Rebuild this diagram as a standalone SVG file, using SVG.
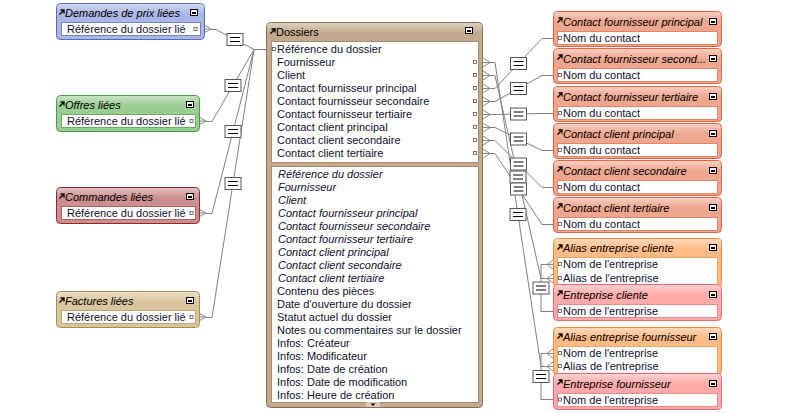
<svg xmlns="http://www.w3.org/2000/svg" width="795" height="413" viewBox="0 0 795 413">
<style>
.t{font-family:"Liberation Sans",Arial,sans-serif;font-size:11px;fill:#101030}
.h{fill:#000}
.i{font-style:italic}
.ln{fill:none;stroke:#808080;stroke-width:1}
.cf{fill:none;stroke:#8a8a8a;stroke-width:1}
.fb{fill:#fff}
.pin{fill:#fff;stroke:#555;stroke-width:0.8}
.blue{fill:#a9b7e6;stroke:#5a6ab2}
.blue2{stroke:#7483c4}
.green{fill:#9bcc93;stroke:#4f9a49}
.green2{stroke:#6aae64}
.red{fill:#cc8f8f;stroke:#8e2a2a}
.red2{stroke:#b06060}
.tan{fill:#d9c59e;stroke:#a88c52}
.tan2{stroke:#bea672}
.dos{fill:#c2aa8e;stroke:#8c7052}
.dos2{stroke:#a58a6b}
.sal{fill:#efa68e;stroke:#e06440}
.sal2{stroke:#e88466}
.ora{fill:#ffbb86;stroke:#f28a3a}
.ora2{stroke:#f6a060}
.pnk{fill:#ffaaaa;stroke:#ef6a6a}
.pnk2{stroke:#f38888}
</style>
<defs>
<linearGradient id="gloss" x1="0" y1="0" x2="0" y2="1">
<stop offset="0" stop-color="#fff" stop-opacity="0.45"/>
<stop offset="1" stop-color="#fff" stop-opacity="0"/>
</linearGradient>
<g id="eqb"><rect x="-8" y="-6" width="16" height="12" fill="#fff" stroke="#555"/><path d="M-5,-2H5M-5,2H5" stroke="#000" stroke-width="1.2"/></g>
<g id="arr"><path d="M0.5,5.5L4.5,1.5M1.5,1H5V4.5" stroke="#000" stroke-width="1.3" fill="none"/></g>
<g id="mini"><rect width="8" height="7" fill="#000"/><rect x="1" y="1" width="6" height="5" fill="#fff"/><rect x="2" y="3" width="4" height="2" fill="#000"/></g>
</defs>

<g id="connectors">
<!-- left -->
<path class="cf" d="M204,25L211,29M204,29L211,29M204,33L211,29"/>
<path class="ln" d="M211,29.5L216,29.5L254,49.5L266,49.5"/>
<path class="cf" d="M199,117L206,121M199,121L206,121M199,125L206,121"/>
<path class="ln" d="M206,121.5L212,121.5L254,49.5"/>
<path class="cf" d="M199,209L206,213M199,213L206,213M199,217L206,213"/>
<path class="ln" d="M206,213.5L212,213.5L254,49.5"/>
<path class="cf" d="M199,313L206,317M199,317L206,317M199,321L206,317"/>
<path class="ln" d="M206,317.5L212,317.5L254,49.5"/>
<use href="#eqb" x="235" y="39.5"/>
<use href="#eqb" x="233" y="85.5"/>
<use href="#eqb" x="233" y="131.5"/>
<use href="#eqb" x="233" y="183.5"/>
<!-- right crow feet on Dossiers -->
<path class="cf" d="M483,58L490,62.5M483,62.5L490,62.5M483,67L490,62.5M483,71L490,75.5M483,75.5L490,75.5M483,80L490,75.5M483,84L490,88.5M483,88.5L490,88.5M483,93L490,88.5M483,97L490,101.5M483,101.5L490,101.5M483,106L490,101.5M483,110L490,114.5M483,114.5L490,114.5M483,119L490,114.5M483,123L490,127.5M483,127.5L490,127.5M483,132L490,127.5M483,136L490,140.5M483,140.5L490,140.5M483,145L490,140.5M483,149L490,153.5M483,153.5L490,153.5M483,158L490,153.5"/>
<path class="ln" d="M490,88.5L495,88.5L542,38.5L553,38.5"/>
<path class="ln" d="M490,101.5L495,101.5L542,75.5L553,75.5"/>
<path class="ln" d="M490,114.5L495,114.5L542,113.5L553,113.5"/>
<path class="ln" d="M490,127.5L495,127.5L542,150.5L553,150.5"/>
<path class="ln" d="M490,140.5L495,140.5L542,187.5L553,187.5"/>
<path class="ln" d="M490,153.5L495,153.5L542,224.5L553,224.5"/>
<path class="ln" d="M490,62.5L495,62.5L541,366.5L547,366.5"/>
<path class="ln" d="M490,75.5L495,75.5L541,278.5L547,278.5"/>
<path class="ln" d="M547,264.5L541,264.5L541,311.5L553,311.5"/>
<path class="ln" d="M547,353.5L541,353.5L541,399.5L553,399.5"/>
<path class="cf" d="M553,260L547,264.5M553,264.5L547,264.5M553,269L547,264.5M553,274L547,278.5M553,278.5L547,278.5M553,283L547,278.5M553,349L547,353.5M553,353.5L547,353.5M553,358L547,353.5M553,362L547,366.5M553,366.5L547,366.5M553,371L547,366.5"/>
<use href="#eqb" x="518.5" y="63.5"/>
<use href="#eqb" x="518.5" y="88.5"/>
<use href="#eqb" x="518.5" y="114"/>
<use href="#eqb" x="518.5" y="139"/>
<use href="#eqb" x="518.5" y="164"/>
<use href="#eqb" x="518" y="177"/>
<use href="#eqb" x="518.5" y="189"/>
<use href="#eqb" x="518" y="214.5"/>
<use href="#eqb" x="541" y="288"/>
<use href="#eqb" x="541" y="376.5"/>
</g>

<!-- left tables -->
<g id="demandes">
<rect class="blue" x="56.5" y="3.5" width="148" height="36" rx="4"/>
<rect x="57" y="4" width="147" height="10" rx="3" fill="url(#gloss)"/>
<rect class="fb blue2" x="61.5" y="22.5" width="139" height="13"/>
<use href="#arr" x="59" y="9"/>
<text class="t h i" x="65" y="17">Demandes de prix liées</text>
<use href="#mini" x="190" y="9"/>
<text class="t" x="67" y="33">Référence du dossier lié</text>
<rect class="pin" x="194" y="27.5" width="3" height="3"/>
</g>
<g id="offres">
<rect class="green" x="56.5" y="95.5" width="143" height="36" rx="4"/>
<rect x="57" y="96" width="142" height="10" rx="3" fill="url(#gloss)"/>
<rect class="fb green2" x="61.5" y="114.5" width="134" height="13"/>
<use href="#arr" x="59" y="101"/>
<text class="t h i" x="65" y="109">Offres liées</text>
<use href="#mini" x="186" y="101"/>
<text class="t" x="67" y="125">Référence du dossier lié</text>
<rect class="pin" x="190" y="119.5" width="3" height="3"/>
</g>
<g id="commandes">
<rect class="red" x="56.5" y="187.5" width="143" height="36" rx="4"/>
<rect x="57" y="188" width="142" height="10" rx="3" fill="url(#gloss)"/>
<rect class="fb red2" x="61.5" y="206.5" width="134" height="13"/>
<use href="#arr" x="59" y="193"/>
<text class="t h i" x="65" y="201">Commandes liées</text>
<use href="#mini" x="186" y="193"/>
<text class="t" x="67" y="217">Référence du dossier lié</text>
<rect class="pin" x="190" y="211.5" width="3" height="3"/>
</g>
<g id="factures">
<rect class="tan" x="56.5" y="291.5" width="143" height="36" rx="4"/>
<rect x="57" y="292" width="142" height="10" rx="3" fill="url(#gloss)"/>
<rect class="fb tan2" x="61.5" y="310.5" width="134" height="13"/>
<use href="#arr" x="59" y="297"/>
<text class="t h i" x="65" y="305">Factures liées</text>
<use href="#mini" x="186" y="297"/>
<text class="t" x="67" y="321">Référence du dossier lié</text>
<rect class="pin" x="190" y="315.5" width="3" height="3"/>
</g>

<!-- Dossiers -->
<g id="dossiers">
<rect class="dos" x="266.5" y="22.5" width="216" height="385" rx="4"/>
<rect x="267" y="23" width="215" height="10" rx="3" fill="url(#gloss)"/>
<use href="#arr" x="270" y="28"/>
<text class="t h" x="276" y="36">Dossiers</text>
<use href="#mini" x="465" y="27"/>
<rect class="fb dos2" x="271.5" y="41.5" width="207" height="121"/>
<rect class="fb dos2" x="271.5" y="166.5" width="207" height="236"/>
<rect x="366" y="402" width="14" height="5" fill="#d9cbb8"/>
<path d="M370.5,403.5h5l-2.5,2.5z" fill="#000"/>
<rect class="pin" x="272.5" y="47.5" width="3" height="3"/>
<g class="t">
<text x="277" y="53">Référence du dossier</text>
<text x="277" y="66">Fournisseur</text>
<text x="277" y="79">Client</text>
<text x="277" y="92">Contact fournisseur principal</text>
<text x="277" y="105">Contact fournisseur secondaire</text>
<text x="277" y="118">Contact fournisseur tertiaire</text>
<text x="277" y="131">Contact client principal</text>
<text x="277" y="144">Contact client secondaire</text>
<text x="277" y="157">Contact client tertiaire</text>
</g>
<g>
<rect class="pin" x="473.5" y="60.5" width="3" height="3"/>
<rect class="pin" x="473.5" y="73.5" width="3" height="3"/>
<rect class="pin" x="473.5" y="86.5" width="3" height="3"/>
<rect class="pin" x="473.5" y="99.5" width="3" height="3"/>
<rect class="pin" x="473.5" y="112.5" width="3" height="3"/>
<rect class="pin" x="473.5" y="125.5" width="3" height="3"/>
<rect class="pin" x="473.5" y="138.5" width="3" height="3"/>
<rect class="pin" x="473.5" y="151.5" width="3" height="3"/>
</g>
<g class="t i">
<text x="278" y="178">Référence du dossier</text>
<text x="278" y="191">Fournisseur</text>
<text x="278" y="204">Client</text>
<text x="278" y="217">Contact fournisseur principal</text>
<text x="278" y="230">Contact fournisseur secondaire</text>
<text x="278" y="243">Contact fournisseur tertiaire</text>
<text x="278" y="256">Contact client principal</text>
<text x="278" y="269">Contact client secondaire</text>
<text x="278" y="282">Contact client tertiaire</text>
</g>
<g class="t">
<text x="277" y="295">Contenu des pièces</text>
<text x="277" y="308">Date d'ouverture du dossier</text>
<text x="277" y="321">Statut actuel du dossier</text>
<text x="277" y="334">Notes ou commentaires sur le dossier</text>
<text x="277" y="347">Infos: Créateur</text>
<text x="277" y="360">Infos: Modificateur</text>
<text x="277" y="373">Infos: Date de création</text>
<text x="277" y="386">Infos: Date de modification</text>
<text x="277" y="399">Infos: Heure de création</text>
</g>
</g>

<!-- right contact tables -->
<g id="cfp">
<rect class="sal" x="553.5" y="11.5" width="168" height="35" rx="4"/>
<rect x="554" y="12" width="167" height="10" rx="3" fill="url(#gloss)"/>
<use href="#arr" x="557" y="17"/>
<text class="t h i" x="563" y="25.5">Contact fournisseur principal</text>
<use href="#mini" x="709" y="18"/>
<rect class="fb sal2" x="557.5" y="31.5" width="160" height="13"/>
<rect class="pin" x="558.5" y="36.5" width="3" height="3"/>
<text class="t" x="563" y="42">Nom du contact</text>
</g>
<g id="cfs">
<rect class="sal" x="553.5" y="48.5" width="168" height="35" rx="4"/>
<rect x="554" y="49" width="167" height="10" rx="3" fill="url(#gloss)"/>
<use href="#arr" x="557" y="54"/>
<text class="t h i" x="563" y="62.5">Contact fournisseur second...</text>
<use href="#mini" x="709" y="55"/>
<rect class="fb sal2" x="557.5" y="68.5" width="160" height="13"/>
<rect class="pin" x="558.5" y="73.5" width="3" height="3"/>
<text class="t" x="563" y="79">Nom du contact</text>
</g>
<g id="cft">
<rect class="sal" x="553.5" y="86.5" width="168" height="35" rx="4"/>
<rect x="554" y="87" width="167" height="10" rx="3" fill="url(#gloss)"/>
<use href="#arr" x="557" y="92"/>
<text class="t h i" x="563" y="100.5">Contact fournisseur tertiaire</text>
<use href="#mini" x="709" y="93"/>
<rect class="fb sal2" x="557.5" y="106.5" width="160" height="13"/>
<rect class="pin" x="558.5" y="111.5" width="3" height="3"/>
<text class="t" x="563" y="117">Nom du contact</text>
</g>
<g id="ccp">
<rect class="sal" x="553.5" y="123.5" width="168" height="35" rx="4"/>
<rect x="554" y="124" width="167" height="10" rx="3" fill="url(#gloss)"/>
<use href="#arr" x="557" y="129"/>
<text class="t h i" x="563" y="137.5">Contact client principal</text>
<use href="#mini" x="709" y="130"/>
<rect class="fb sal2" x="557.5" y="143.5" width="160" height="13"/>
<rect class="pin" x="558.5" y="148.5" width="3" height="3"/>
<text class="t" x="563" y="154">Nom du contact</text>
</g>
<g id="ccs">
<rect class="sal" x="553.5" y="160.5" width="168" height="35" rx="4"/>
<rect x="554" y="161" width="167" height="10" rx="3" fill="url(#gloss)"/>
<use href="#arr" x="557" y="166"/>
<text class="t h i" x="563" y="174.5">Contact client secondaire</text>
<use href="#mini" x="709" y="167"/>
<rect class="fb sal2" x="557.5" y="180.5" width="160" height="13"/>
<rect class="pin" x="558.5" y="185.5" width="3" height="3"/>
<text class="t" x="563" y="191">Nom du contact</text>
</g>
<g id="cct">
<rect class="sal" x="553.5" y="197.5" width="168" height="35" rx="4"/>
<rect x="554" y="198" width="167" height="10" rx="3" fill="url(#gloss)"/>
<use href="#arr" x="557" y="203"/>
<text class="t h i" x="563" y="211.5">Contact client tertiaire</text>
<use href="#mini" x="709" y="204"/>
<rect class="fb sal2" x="557.5" y="217.5" width="160" height="13"/>
<rect class="pin" x="558.5" y="222.5" width="3" height="3"/>
<text class="t" x="563" y="228">Nom du contact</text>
</g>

<!-- entreprise tables -->
<g id="alias-cliente">
<rect class="ora" x="553.5" y="238.5" width="168" height="48" rx="4"/>
<rect x="554" y="239" width="167" height="10" rx="3" fill="url(#gloss)"/>
<use href="#arr" x="557" y="244"/>
<text class="t h i" x="563" y="252">Alias entreprise cliente</text>
<use href="#mini" x="709" y="244"/>
<rect class="fb ora2" x="557.5" y="257.5" width="160" height="27"/>
<rect class="pin" x="558.5" y="262.5" width="3" height="3"/>
<text class="t" x="563" y="268">Nom de l'entreprise</text>
<rect class="pin" x="558.5" y="276.5" width="3" height="3"/>
<text class="t" x="563" y="282">Alias de l'entreprise</text>
</g>
<g id="entreprise-cliente">
<rect class="pnk" x="553.5" y="284.5" width="168" height="36" rx="4"/>
<rect x="554" y="285" width="167" height="10" rx="3" fill="url(#gloss)"/>
<use href="#arr" x="557" y="290"/>
<text class="t h i" x="563" y="298.5">Entreprise cliente</text>
<use href="#mini" x="709" y="291"/>
<rect class="fb pnk2" x="557.5" y="304.5" width="160" height="13"/>
<rect class="pin" x="558.5" y="309.5" width="3" height="3"/>
<text class="t" x="563" y="315">Nom de l'entreprise</text>
</g>
<g id="alias-fournisseur">
<rect class="ora" x="553.5" y="327.5" width="168" height="47" rx="4"/>
<rect x="554" y="328" width="167" height="10" rx="3" fill="url(#gloss)"/>
<use href="#arr" x="557" y="333"/>
<text class="t h i" x="563" y="340.5">Alias entreprise fournisseur</text>
<use href="#mini" x="709" y="333"/>
<rect class="fb ora2" x="557.5" y="346.5" width="160" height="27"/>
<rect class="pin" x="558.5" y="351.5" width="3" height="3"/>
<text class="t" x="563" y="357">Nom de l'entreprise</text>
<rect class="pin" x="558.5" y="364.5" width="3" height="3"/>
<text class="t" x="563" y="370">Alias de l'entreprise</text>
</g>
<g id="entreprise-fournisseur">
<rect class="pnk" x="553.5" y="373.5" width="168" height="36" rx="4"/>
<rect x="554" y="374" width="167" height="10" rx="3" fill="url(#gloss)"/>
<use href="#arr" x="557" y="379"/>
<text class="t h i" x="563" y="387.5">Entreprise fournisseur</text>
<use href="#mini" x="709" y="380"/>
<rect class="fb pnk2" x="557.5" y="393.5" width="160" height="13"/>
<rect class="pin" x="558.5" y="398" width="3" height="3"/>
<text class="t" x="563" y="403.5">Nom de l'entreprise</text>
</g>
</svg>
